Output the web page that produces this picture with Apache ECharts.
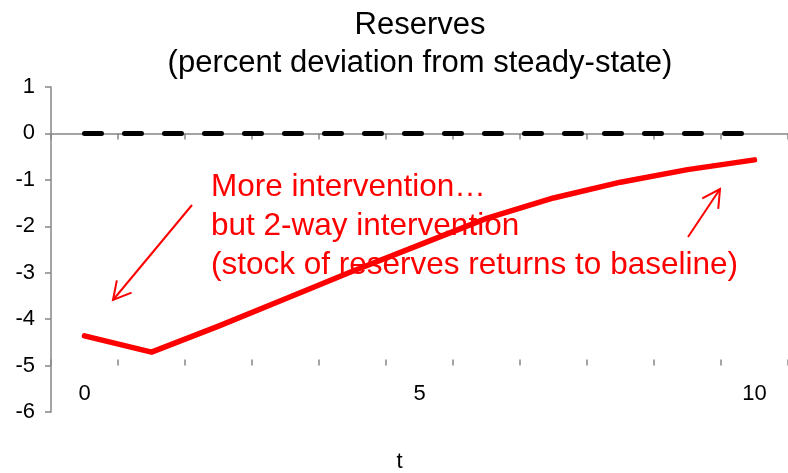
<!DOCTYPE html>
<html>
<head>
<meta charset="utf-8">
<script src="https://cdn.jsdelivr.net/npm/echarts@6/dist/echarts.min.js"></script>
<style>
  html, body { margin: 0; padding: 0; background: #fff; }
  #chart { width: 788px; height: 473px; }
</style>
</head>
<body>
<div id="chart"></div>
<script>
// data
const periods = ['0', '1', '2', '3', '4', '5', '6', '7', '8', '9', '10'];
const reserves = [-4.36, -4.71, -4.15, -3.56, -2.97, -2.40, -1.83, -1.39, -1.05, -0.78, -0.57];
const steadyState = [0, 0, 0, 0, 0, 0, 0, 0, 0, 0, 0];
const yTicks = { min: -6, max: 1, step: 1 };
const annotationLines = [
  'More intervention\u2026',
  'but 2-way intervention',
  '(stock of reserves returns to baseline)'
];

const FONT = 'Liberation Sans, Arial, sans-serif';
const AXIS_GRAY = '#868686';
const GRID_TOP = 87;
const GRID_H = 325;
// the x axis sits at y = -5, one unit above the grid bottom
const unitPx = GRID_H / (yTicks.max - yTicks.min);

// open arrow (line + two-stroke head) drawn as annotation
function arrow(x1, y1, x2, y2) {
  const ang = Math.atan2(y2 - y1, x2 - x1);
  const len = 20, spread = 0.5;
  const h1 = [x2 - len * Math.cos(ang - spread), y2 - len * Math.sin(ang - spread)];
  const h2 = [x2 - len * Math.cos(ang + spread), y2 - len * Math.sin(ang + spread)];
  const st = { stroke: '#ff0000', lineWidth: 2, fill: null };
  return [
    { type: 'line', shape: { x1: x1, y1: y1, x2: x2, y2: y2 }, style: st },
    { type: 'polyline', shape: { points: [h1, [x2, y2], h2] }, style: st }
  ];
}

const chart = echarts.init(document.getElementById('chart'));

const xAxisBase = {
  type: 'category',
  data: periods,
  boundaryGap: true,
  position: 'bottom',
  offset: -unitPx
};

chart.setOption({
  animation: false,
  title: {
    text: 'Reserves\n(percent deviation from steady-state)',
    left: 420,
    textAlign: 'center',
    top: 6,
    padding: 0,
    textStyle: { fontFamily: FONT, fontSize: 31, fontWeight: 'normal', color: '#000', lineHeight: 38 }
  },
  grid: { left: 51, right: 0, top: GRID_TOP, height: GRID_H, outerBoundsMode: 'none' },
  xAxis: [
    Object.assign({}, xAxisBase, {
      name: 't',
      nameLocation: 'middle',
      nameGap: 85,
      nameTextStyle: { fontFamily: FONT, fontSize: 22, color: '#000', padding: [0, 40, 0, 0] },
      axisLine: { lineStyle: { color: AXIS_GRAY, width: 1.5 } },
      axisTick: { show: true, interval: 0, length: 6, lineStyle: { color: AXIS_GRAY, width: 1.5 } },
      axisLabel: { interval: 4, margin: 17, fontFamily: FONT, fontSize: 22, color: '#000' },
      splitLine: { show: false }
    }),
    Object.assign({}, xAxisBase, {
      axisLine: { show: false },
      axisTick: { show: true, inside: true, interval: 0, length: 6, lineStyle: { color: AXIS_GRAY, width: 1.5 } },
      axisLabel: { show: false },
      splitLine: { show: false }
    })
  ],
  yAxis: {
    type: 'value',
    min: yTicks.min,
    max: yTicks.max,
    interval: yTicks.step,
    axisLine: { show: true, lineStyle: { color: AXIS_GRAY, width: 1.5 } },
    axisTick: { show: true, length: 6, lineStyle: { color: AXIS_GRAY, width: 1.5 } },
    axisLabel: { margin: 16, fontFamily: FONT, fontSize: 22, color: '#000' },
    splitLine: { show: false }
  },
  series: [
    {
      name: 'steady state',
      type: 'line',
      data: steadyState,
      symbol: 'none',
      lineStyle: { color: '#000', width: 5, type: [17, 23], cap: 'round' },
      z: 2
    },
    {
      name: 'reserves',
      type: 'line',
      data: reserves,
      symbol: 'none',
      lineStyle: { color: '#ff0000', width: 5.5, cap: 'round', join: 'round' },
      z: 3
    }
  ],
  graphic: [
    {
      type: 'text',
      left: 211,
      top: 168,
      z: 10,
      style: {
        text: annotationLines.join('\n'),
        fill: '#ff0000',
        font: '31.5px ' + FONT,
        lineHeight: 39
      }
    }
  ].concat(arrow(192, 205, 113, 300), arrow(688, 237, 720, 189))
});
</script>
</body>
</html>
